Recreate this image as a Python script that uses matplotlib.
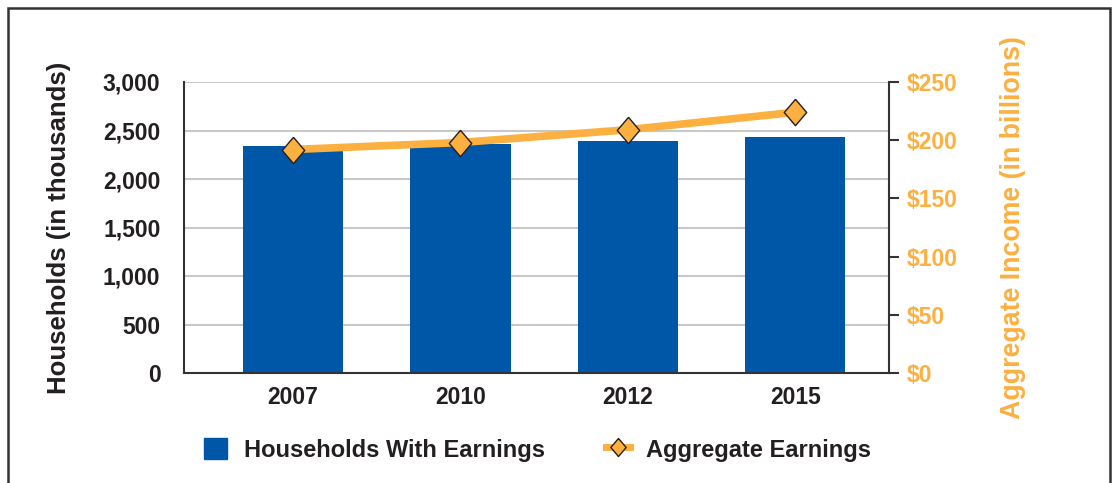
import matplotlib.pyplot as plt
from matplotlib.patches import Rectangle
from matplotlib.lines import Line2D
from matplotlib.ticker import FuncFormatter

plt.rcParams['font.family'] = ['Liberation Sans', 'DejaVu Sans']
plt.rcParams['font.weight'] = 'bold'
plt.rcParams['axes.labelweight'] = 'bold'

years = ['2007', '2010', '2012', '2015']
households = [2345, 2357, 2388, 2428]        # thousands
aggregate_income = [192, 198, 209, 224]      # billions of dollars

BLUE = '#0057A8'
ORANGE = '#FBB040'
DARK = '#231F20'
GRID = '#C8C8C8'

diamond = [(0, 1), (0.85, 0), (0, -1), (-0.85, 0), (0, 1)]

fig = plt.figure(figsize=(11.15, 4.83), dpi=100)
fig.patches.append(Rectangle((8 / 1115, -0.05), 1102 / 1115, 1 - 8 / 483 + 0.05,
                             transform=fig.transFigure, fill=False,
                             edgecolor='#333333', linewidth=1.8))

ax = fig.add_axes([184 / 1115, 110 / 483, 705 / 1115, 291 / 483])
x = range(len(years))
ax.bar(x, households, width=0.6, color=BLUE, zorder=2)
ax.set_ylim(0, 3000)
ax.set_xlim(-0.65, 3.56)
ax.set_yticks(range(0, 3001, 500))
ax.yaxis.set_major_formatter(FuncFormatter(lambda v, p: f'{int(v):,}'))
ax.set_xticks(list(x))
ax.set_xticklabels(years)
ax.tick_params(axis='y', length=0, pad=17, labelsize=16.5, labelcolor=DARK)
ax.tick_params(axis='x', length=0, pad=9, labelsize=16.5, labelcolor=DARK)
ax.grid(axis='y', color=GRID, linewidth=1.5, zorder=0)
ax.set_axisbelow(True)
for s in ['top', 'right']:
    ax.spines[s].set_visible(False)
for s in ['left', 'bottom']:
    ax.spines[s].set_color('#333333')
    ax.spines[s].set_linewidth(1.5)
ax.set_ylabel('Households (in thousands)', fontsize=18.5, color=DARK, labelpad=23)

ax2 = ax.twinx()
ax2.plot(x, aggregate_income, color=ORANGE, linewidth=5.5, zorder=3,
         marker=diamond, markersize=19, markerfacecolor=ORANGE,
         markeredgecolor=DARK, markeredgewidth=1.0)
ax2.set_ylim(0, 250)
ax2.set_yticks(range(0, 251, 50))
ax2.yaxis.set_major_formatter(FuncFormatter(lambda v, p: f'${int(v)}'))
ax2.tick_params(axis='y', length=7, width=1.5, color='#333333', pad=6,
                labelsize=16.5, labelcolor=ORANGE)
for s in ['top', 'left', 'bottom']:
    ax2.spines[s].set_visible(False)
ax2.spines['right'].set_color('#333333')
ax2.spines['right'].set_linewidth(1.5)
ax2.set_ylabel('Aggregate Income (in billions)', fontsize=19.3, color=ORANGE,
               labelpad=30)

handles = [
    Rectangle((0, 0), 1, 1, color=BLUE),
    Line2D([], [], color=ORANGE, linewidth=5, marker=diamond, markersize=13,
           markerfacecolor=ORANGE, markeredgecolor=DARK, markeredgewidth=1.0),
]
fig.legend(handles, ['Households With Earnings', 'Aggregate Earnings'],
           loc='center', bbox_to_anchor=(0.482, 1 - 450 / 483),
           ncol=2, frameon=False, fontsize=17, handlelength=1.0,
           handleheight=1.0, columnspacing=2.6, handletextpad=0.7,
           labelcolor=DARK)

fig.savefig('out.png', dpi=100)
